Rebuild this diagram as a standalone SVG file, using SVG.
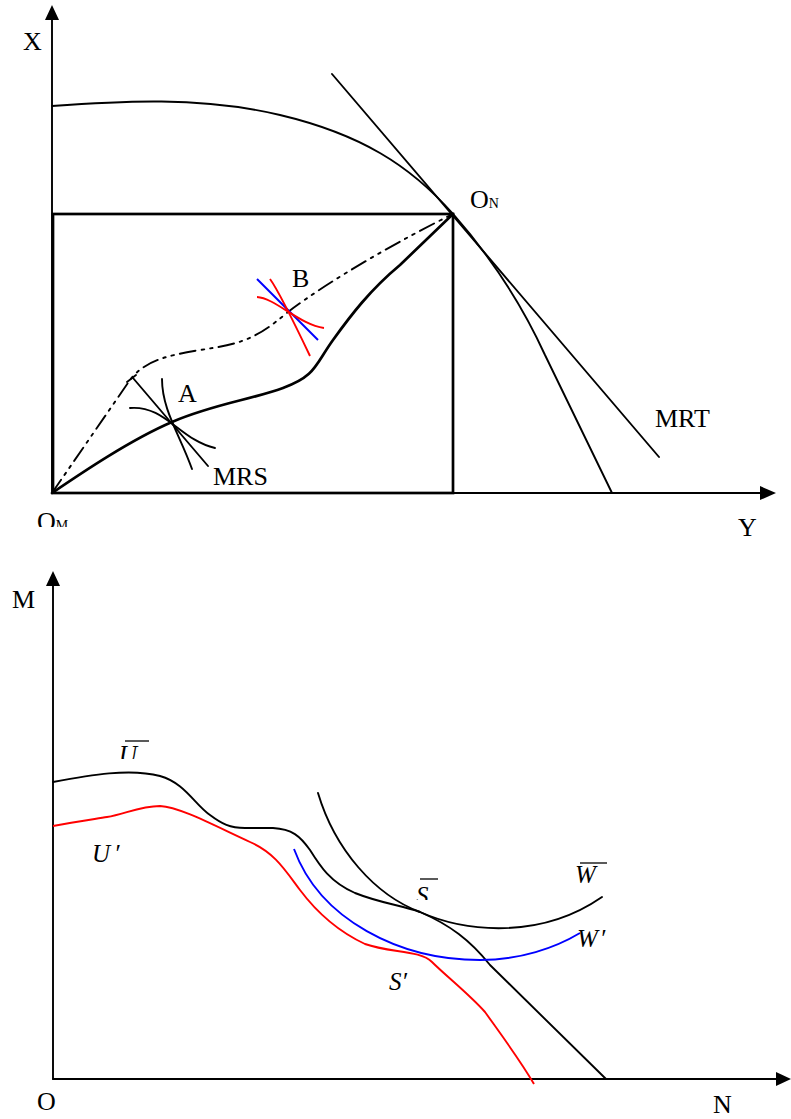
<svg xmlns="http://www.w3.org/2000/svg" width="791" height="1119" viewBox="0 0 791 1119">
<style>
.ln{fill:none;stroke:#000;stroke-width:1.9;stroke-linecap:round;stroke-linejoin:round}
.thick{stroke-width:2.7}
.red{fill:none;stroke:#f00;stroke-width:1.9}
.blue{fill:none;stroke:#00f;stroke-width:1.9}
.ah{fill:#000}
.t{font-family:"Liberation Serif","Times New Roman",serif;font-size:26px;fill:#000}
.i{font-style:italic;font-size:25px}
.sm{font-size:14px}
</style>
<defs>
<clipPath id="clipOM"><rect x="0" y="500" width="120" height="27"/></clipPath>
<clipPath id="clipU"><rect x="100" y="730" width="80" height="29"/></clipPath>
<clipPath id="clipS"><rect x="400" y="870" width="60" height="30"/></clipPath>
</defs>
<g id="top-axes">
<line class="ln" x1="52" y1="18" x2="52" y2="493"/>
<polygon class="ah" points="52,5 45,20 59,20"/>
<line class="ln" x1="52" y1="493" x2="762" y2="493"/>
<polygon class="ah" points="776,493 760,486 760,500"/>
</g>
<g id="box">
<rect x="53" y="214" width="400" height="279" fill="none" stroke="#000" stroke-width="2.7"/>
</g>
<g id="ppf">
<path class="ln" d="M52,106 C120,101 200,96 280,115 C360,134 410,165 453,214 C490,256 520,300 545,355 L612,493"/>
</g>
<g id="mrt">
<line class="ln" x1="332" y1="74" x2="659" y2="457"/>
</g>
<g id="contract">
<path class="ln thick" d="M52,493 C80,474 130,440 172,422 S250,400 283,388 S315,365 333,340 S370,290 400,265 L453,214"/>
</g>
<g id="dashdot">
<path class="ln" stroke-width="2.6" stroke-dasharray="16 6 2.5 6 2.5 6" stroke-linecap="butt" d="M52,493 L130,380 C145,360 170,355 200,350 C240,344 255,340 288,312 C330,280 400,240 453,214"/>
</g>
<g id="pointA">
<line class="ln" x1="133" y1="378" x2="208" y2="466"/>
<line class="ln" x1="127" y1="382" x2="136" y2="375"/>
<path class="ln" d="M130,408 C165,405 180,440 215,448"/>
<path class="ln" d="M162,379 C162,410 180,435 192,469"/>
</g>
<g id="pointB">
<line class="blue" x1="257" y1="279" x2="318" y2="340"/>
<path class="red" d="M270,279 C278,290 300,335 310,356"/>
<path class="red" d="M257,297 C275,298 300,325 324,328"/>
</g>
<g id="top-labels">
<text class="t" x="23" y="50">X</text>
<text class="t" x="738" y="536">Y</text>
<text class="t" x="470" y="208">O<tspan class="sm">N</tspan></text>
<text class="t" x="655" y="427">MRT</text>
<text class="t" x="213" y="485">MRS</text>
<text class="t" x="178" y="402" font-size="24">A</text>
<text class="t" x="292" y="287" font-size="24">B</text>
<text class="t" x="37" y="530" clip-path="url(#clipOM)">O<tspan class="sm">M</tspan></text>
</g>
<g id="bottom-axes">
<line class="ln" x1="53" y1="583" x2="53" y2="1079"/>
<polygon class="ah" points="53,571 46,586 60,586"/>
<line class="ln" x1="53" y1="1079" x2="778" y2="1079"/>
<polygon class="ah" points="791,1079 776,1072 776,1086"/>
</g>
<g id="frontier-U">
<path class="ln" d="M53,782 C90,775 130,768 160,776 C185,783 195,805 210,815 C222,824 230,828 245,828 L273,828 C292,829 300,836 310,850 C320,866 330,882 355,893 C380,903 400,905 420,912 C450,925 470,940 490,965 L606,1079"/>
</g>
<g id="frontier-U-prime">
<path class="red" d="M53,826 C75,822 95,819 107,817 C125,814 140,806 160,806 C180,807 215,826 250,842 C275,853 285,870 300,890 C315,910 335,930 365,944 C390,953 420,950 432,962 C445,975 470,995 485,1012 C505,1040 520,1060 534,1084"/>
</g>
<g id="W-bar">
<path class="ln" d="M318,793 C335,850 375,895 420,912 C465,932 540,940 602,897"/>
</g>
<g id="W-prime">
<path class="blue" d="M294,849 C320,920 400,960 480,960 C520,960 555,948 580,933"/>
</g>
<g id="bottom-labels">
<text class="t" x="12" y="608">M</text>
<text class="t" x="37" y="1110">O</text>
<text class="t" x="713" y="1113">N</text>
<text class="t i" x="119" y="763" clip-path="url(#clipU)">U</text>
<line x1="125" y1="741" x2="149" y2="741" stroke="#000" stroke-width="1.3"/>
<text class="t i" x="92" y="862">U<tspan dx="4">′</tspan></text>
<text class="t i" x="416" y="904" clip-path="url(#clipS)">S</text>
<line x1="420" y1="879" x2="438" y2="879" stroke="#000" stroke-width="1.3"/>
<text class="t i" x="389" y="990">S′</text>
<text class="t i" x="575" y="883">W</text>
<line x1="580" y1="863" x2="607" y2="863" stroke="#000" stroke-width="1.3"/>
<text class="t i" x="577" y="947">W<tspan dx="2">′</tspan></text>
</g>
</svg>
